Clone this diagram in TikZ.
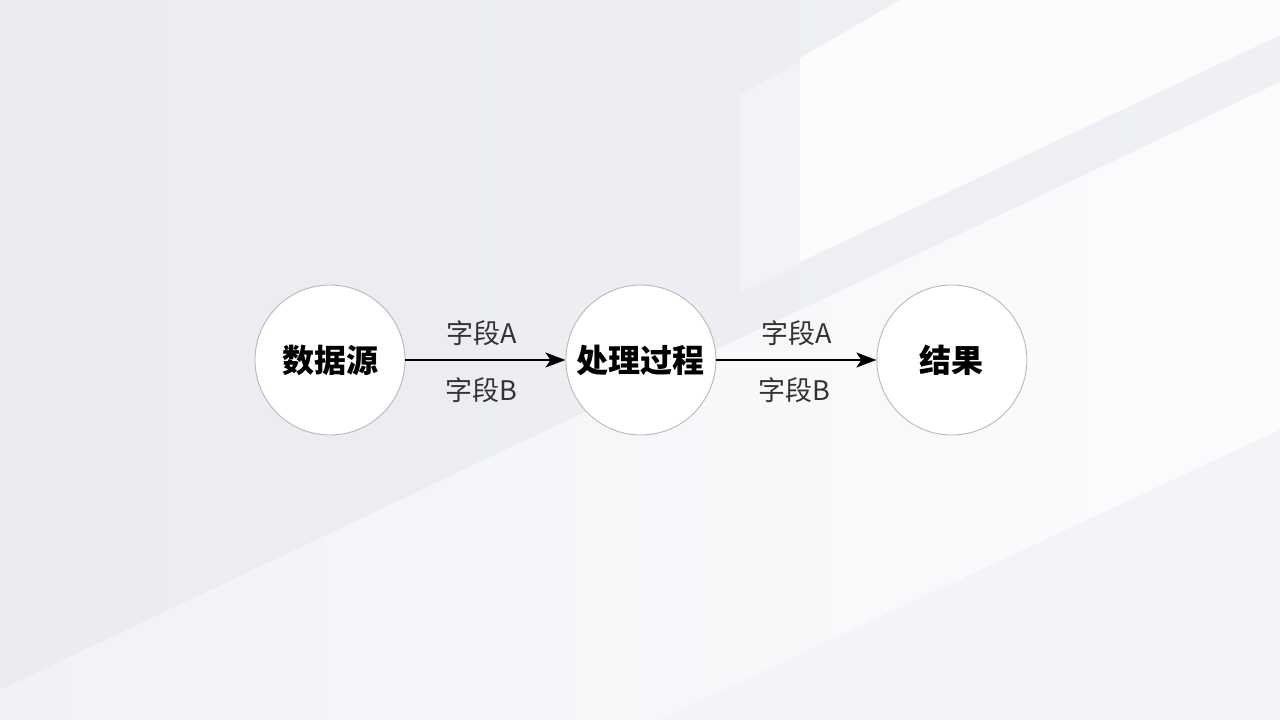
\documentclass[tikz,border=0pt]{standalone}
\usepackage{fontspec}
\newfontfamily\cjk{Noto Sans CJK SC}
\usetikzlibrary{positioning,arrows.meta}

\definecolor{bgleft}{HTML}{EAECF1}
\definecolor{bgright}{HTML}{EEF0F4}
\definecolor{glowleft}{HTML}{F0F2F6}
\definecolor{glowright}{HTML}{FCFCFD}
\definecolor{floorgray}{HTML}{F3F4F7}
\definecolor{ringgray}{HTML}{B8B8B8}
\definecolor{labelgray}{HTML}{333333}

\tikzset{
  stage/.style={circle, draw=ringgray, line width=0.9pt, fill=white,
    minimum size=150pt, inner sep=0pt, font=\cjk\bfseries\fontsize{32}{32}\selectfont},
  flow/.style={line width=1.3pt, -{Stealth[length=20pt,width=15pt,inset=5pt]}},
  field/.style={font=\cjk\fontsize{27}{27}\selectfont, text=labelgray}
}

\begin{document}
\begin{tikzpicture}[x=1pt,y=-1pt]

\useasboundingbox (0,0) rectangle (1280,720);

% background
\shade[left color=bgleft, right color=bgright] (0,0) rectangle (1280,720);
\fill[white, opacity=0.85] (900,0) -- (1280,0) -- (1280,35) -- (800,262) -- (800,58) -- (900,0);
\fill[white, opacity=0.3] (740,95) -- (800,62) -- (800,265) -- (740,292) -- (740,95);
\shade[left color=glowleft, right color=glowright] (1280,82) -- (1280,430) -- (660,720) -- (0,720) -- (0,690) -- (1280,82);
\fill[floorgray] (1280,430) -- (1280,720) -- (660,720) -- (1280,430);

% stages
\node[stage] (src) at (330,360) {数据源};
\node[stage, right=160pt of src] (proc) {处理过程};
\node[stage, right=160pt of proc] (res) {结果};

% flows
\draw[flow] (src) -- (proc)
  node[field, pos=0.5, xshift=-4pt, yshift=27pt] {字段A}
  node[field, pos=0.5, xshift=-4pt, yshift=-30pt] {字段B};
\draw[flow] (proc) -- (res)
  node[field, pos=0.5, xshift=0pt, yshift=27pt] {字段A}
  node[field, pos=0.5, xshift=-2pt, yshift=-30pt] {字段B};

\end{tikzpicture}
\end{document}
